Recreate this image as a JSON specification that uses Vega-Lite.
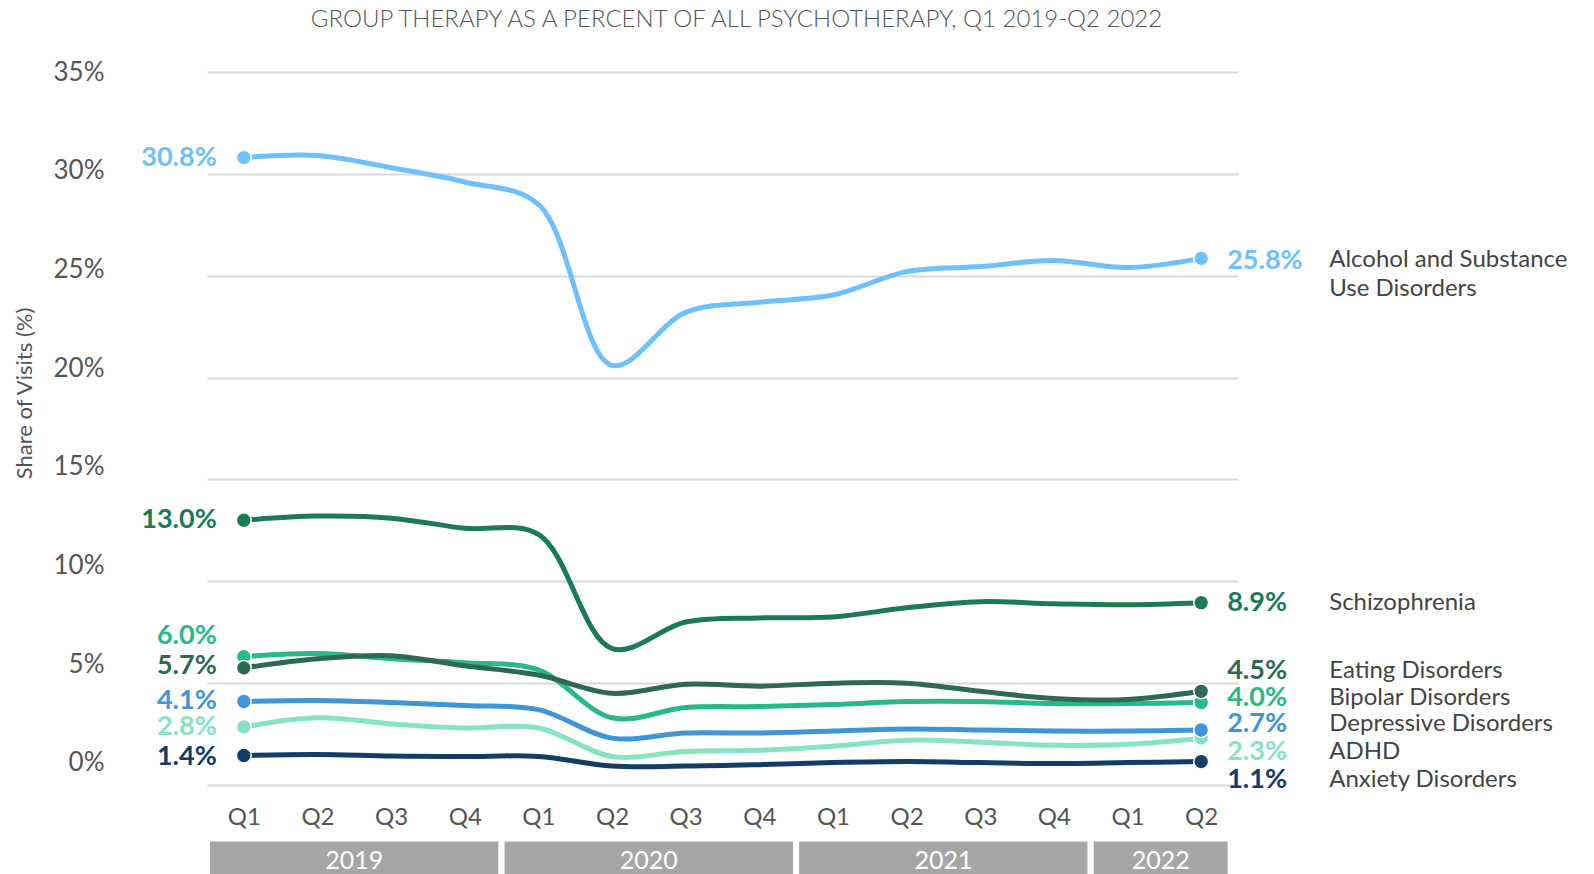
{
  "$schema": "https://vega.github.io/schema/vega-lite/v6.json",
  "width": 1031,
  "height": 713,
  "autosize": {"type": "none"},
  "padding": {"left": 207, "top": 72, "right": 356, "bottom": 89},
  "background": "white",
  "config": {"font": "Lato", "view": {"stroke": null}},
  "title": {
    "text": "GROUP THERAPY AS A PERCENT OF ALL PSYCHOTHERAPY, Q1 2019-Q2 2022",
    "fontSize": 24, "font": "Lato", "fontWeight": 300, "color": "#555555",
    "frame": "group", "anchor": "middle", "dx": 14, "offset": 27
  },
  "datasets": {
    "series": [
      {"s":"Alcohol and Substance Use Disorders","t":0,"v":30.8,"lbl":"30.8%"},
      {"s":"Alcohol and Substance Use Disorders","t":1,"v":30.9},
      {"s":"Alcohol and Substance Use Disorders","t":2,"v":30.3},
      {"s":"Alcohol and Substance Use Disorders","t":3,"v":29.6},
      {"s":"Alcohol and Substance Use Disorders","t":4,"v":28.5},
      {"s":"Alcohol and Substance Use Disorders","t":5,"v":20.6},
      {"s":"Alcohol and Substance Use Disorders","t":6,"v":23.2},
      {"s":"Alcohol and Substance Use Disorders","t":7,"v":23.7},
      {"s":"Alcohol and Substance Use Disorders","t":8,"v":24.05},
      {"s":"Alcohol and Substance Use Disorders","t":9,"v":25.2},
      {"s":"Alcohol and Substance Use Disorders","t":10,"v":25.45},
      {"s":"Alcohol and Substance Use Disorders","t":11,"v":25.75},
      {"s":"Alcohol and Substance Use Disorders","t":12,"v":25.4},
      {"s":"Alcohol and Substance Use Disorders","t":13,"v":25.85,"lbl":"25.8%","name":"Alcohol and Substance\nUse Disorders"},
      {"s":"Schizophrenia","t":0,"v":13.0,"lbl":"13.0%"},
      {"s":"Schizophrenia","t":1,"v":13.2},
      {"s":"Schizophrenia","t":2,"v":13.1},
      {"s":"Schizophrenia","t":3,"v":12.6},
      {"s":"Schizophrenia","t":4,"v":12.3},
      {"s":"Schizophrenia","t":5,"v":6.7},
      {"s":"Schizophrenia","t":6,"v":8.0},
      {"s":"Schizophrenia","t":7,"v":8.2},
      {"s":"Schizophrenia","t":8,"v":8.25},
      {"s":"Schizophrenia","t":9,"v":8.7},
      {"s":"Schizophrenia","t":10,"v":9.0},
      {"s":"Schizophrenia","t":11,"v":8.9},
      {"s":"Schizophrenia","t":12,"v":8.85},
      {"s":"Schizophrenia","t":13,"v":8.95,"lbl":"8.9%","name":"Schizophrenia"},
      {"s":"Anxiety Disorders","t":0,"v":1.45,"lbl":"1.4%"},
      {"s":"Anxiety Disorders","t":1,"v":1.5},
      {"s":"Anxiety Disorders","t":2,"v":1.42},
      {"s":"Anxiety Disorders","t":3,"v":1.4},
      {"s":"Anxiety Disorders","t":4,"v":1.4},
      {"s":"Anxiety Disorders","t":5,"v":0.93},
      {"s":"Anxiety Disorders","t":6,"v":0.93},
      {"s":"Anxiety Disorders","t":7,"v":1.0},
      {"s":"Anxiety Disorders","t":8,"v":1.1},
      {"s":"Anxiety Disorders","t":9,"v":1.15},
      {"s":"Anxiety Disorders","t":10,"v":1.1},
      {"s":"Anxiety Disorders","t":11,"v":1.05},
      {"s":"Anxiety Disorders","t":12,"v":1.1},
      {"s":"Anxiety Disorders","t":13,"v":1.15,"lbl":"1.1%","name":"Anxiety Disorders"},
      {"s":"ADHD","t":0,"v":2.85,"lbl":"2.8%"},
      {"s":"ADHD","t":1,"v":3.3},
      {"s":"ADHD","t":2,"v":3.0},
      {"s":"ADHD","t":3,"v":2.8},
      {"s":"ADHD","t":4,"v":2.8},
      {"s":"ADHD","t":5,"v":1.4},
      {"s":"ADHD","t":6,"v":1.65},
      {"s":"ADHD","t":7,"v":1.7},
      {"s":"ADHD","t":8,"v":1.9},
      {"s":"ADHD","t":9,"v":2.2},
      {"s":"ADHD","t":10,"v":2.1},
      {"s":"ADHD","t":11,"v":1.95},
      {"s":"ADHD","t":12,"v":2.0},
      {"s":"ADHD","t":13,"v":2.3,"lbl":"2.3%","name":"ADHD"},
      {"s":"Depressive Disorders","t":0,"v":4.1,"lbl":"4.1%"},
      {"s":"Depressive Disorders","t":1,"v":4.15},
      {"s":"Depressive Disorders","t":2,"v":4.05},
      {"s":"Depressive Disorders","t":3,"v":3.9},
      {"s":"Depressive Disorders","t":4,"v":3.7},
      {"s":"Depressive Disorders","t":5,"v":2.3},
      {"s":"Depressive Disorders","t":6,"v":2.55},
      {"s":"Depressive Disorders","t":7,"v":2.55},
      {"s":"Depressive Disorders","t":8,"v":2.65},
      {"s":"Depressive Disorders","t":9,"v":2.75},
      {"s":"Depressive Disorders","t":10,"v":2.7},
      {"s":"Depressive Disorders","t":11,"v":2.65},
      {"s":"Depressive Disorders","t":12,"v":2.65},
      {"s":"Depressive Disorders","t":13,"v":2.7,"lbl":"2.7%","name":"Depressive Disorders"},
      {"s":"Bipolar Disorders","t":0,"v":6.3,"lbl":"6.0%"},
      {"s":"Bipolar Disorders","t":1,"v":6.45},
      {"s":"Bipolar Disorders","t":2,"v":6.2},
      {"s":"Bipolar Disorders","t":3,"v":6.0},
      {"s":"Bipolar Disorders","t":4,"v":5.65},
      {"s":"Bipolar Disorders","t":5,"v":3.3},
      {"s":"Bipolar Disorders","t":6,"v":3.8},
      {"s":"Bipolar Disorders","t":7,"v":3.85},
      {"s":"Bipolar Disorders","t":8,"v":3.95},
      {"s":"Bipolar Disorders","t":9,"v":4.1},
      {"s":"Bipolar Disorders","t":10,"v":4.1},
      {"s":"Bipolar Disorders","t":11,"v":4.0},
      {"s":"Bipolar Disorders","t":12,"v":4.0},
      {"s":"Bipolar Disorders","t":13,"v":4.05,"lbl":"4.0%","name":"Bipolar Disorders"},
      {"s":"Eating Disorders","t":0,"v":5.75,"lbl":"5.7%"},
      {"s":"Eating Disorders","t":1,"v":6.2},
      {"s":"Eating Disorders","t":2,"v":6.35},
      {"s":"Eating Disorders","t":3,"v":5.85},
      {"s":"Eating Disorders","t":4,"v":5.4},
      {"s":"Eating Disorders","t":5,"v":4.5},
      {"s":"Eating Disorders","t":6,"v":4.95},
      {"s":"Eating Disorders","t":7,"v":4.85},
      {"s":"Eating Disorders","t":8,"v":5.0},
      {"s":"Eating Disorders","t":9,"v":5.0},
      {"s":"Eating Disorders","t":10,"v":4.6},
      {"s":"Eating Disorders","t":11,"v":4.25},
      {"s":"Eating Disorders","t":12,"v":4.2},
      {"s":"Eating Disorders","t":13,"v":4.6,"lbl":"4.5%","name":"Eating Disorders"}
    ],
    "years": [
      {"year":"2019","start":-0.5,"end":3.5},
      {"year":"2020","start":3.5,"end":7.5},
      {"year":"2021","start":7.5,"end":11.5},
      {"year":"2022","start":11.5,"end":13.4}
    ]
  },
  "layer": [
    {
      "data": {"name": "years"},
      "mark": {"type": "rect", "fill": "#A6A6A6", "stroke": "white", "strokeWidth": 6},
      "encoding": {
        "x": {"field": "start", "type": "quantitative", "title": null},
        "x2": {"field": "end"},
        "y": {"datum": -2.63, "type": "quantitative"},
        "y2": {"datum": -4.8}
      }
    },
    {
      "data": {"name": "years"},
      "transform": [{"calculate": "(datum.start + datum.end) / 2", "as": "mid"}],
      "mark": {"type": "text", "color": "white", "fontSize": 25, "baseline": "middle", "align": "center"},
      "encoding": {
        "x": {"field": "mid", "type": "quantitative", "title": null},
        "y": {"datum": -3.75, "type": "quantitative"},
        "text": {"field": "year"}
      }
    },
    {
      "data": {"name": "series"},
      "mark": {"type": "line", "interpolate": "catmull-rom", "strokeWidth": 5, "strokeCap": "round"},
      "encoding": {
        "x": {
          "field": "t", "type": "quantitative", "title": null,
          "scale": {"domain": [-0.5, 13.5], "nice": false, "zero": false},
          "axis": {
            "values": [0,1,2,3,4,5,6,7,8,9,10,11,12,13],
            "labelExpr": "'Q' + (datum.value % 4 + 1)",
            "grid": false, "domain": false, "ticks": false, "tickSize": 0,
            "labelFontSize": 24, "labelColor": "#555555", "labelPadding": 20,
            "labelFont": "Lato", "title": null
          }
        },
        "y": {
          "field": "v", "type": "quantitative",
          "scale": {"domain": [0, 35], "nice": false},
          "axis": {
            "values": [0,5,10,15,20,25,30,35],
            "labelExpr": "datum.value + '%'",
            "grid": true, "gridColor": "#D9D9D9", "gridWidth": 2,
            "domain": false, "ticks": false, "tickSize": 0,
            "labelFontSize": 26, "labelColor": "#555555", "labelPadding": 103,
            "labelFont": "Lato",
            "labelOffset": {"expr": "-(35 - datum.value) * 0.63"},
            "title": "Share of Visits (%)", "titleFontSize": 22, "titleColor": "#555555",
            "titleFontWeight": "normal", "titleFont": "Lato",
            "titleX": -183, "titleY": 321, "titleBaseline": "middle", "titleAlign": "center", "titleAngle": -90
          }
        },
        "color": {
          "field": "s", "type": "nominal", "legend": null,
          "scale": {
            "domain": ["Alcohol and Substance Use Disorders","Schizophrenia","Anxiety Disorders","ADHD","Depressive Disorders","Bipolar Disorders","Eating Disorders"],
            "range": ["#6EC1FF","#1B7B55","#143C69","#86E4C2","#3E95D8","#27BA86","#2E6A52"]
          }
        }
      }
    },
    {
      "data": {"name": "series"},
      "transform": [{"filter": "datum.t == 0 || datum.t == 13"}],
      "mark": {"type": "circle", "size": 220, "opacity": 1, "stroke": "white", "strokeWidth": 1.5},
      "encoding": {
        "x": {"field": "t", "type": "quantitative", "title": null},
        "y": {"field": "v", "type": "quantitative"},
        "color": {"field": "s", "type": "nominal", "legend": null}
      }
    },
    {
      "data": {"name": "series"},
      "transform": [{"filter": "datum.t == 0"}],
      "mark": {
        "type": "text", "align": "right", "baseline": "middle", "dx": -27,
        "fontSize": 27, "fontWeight": "bold", "font": "Lato",
        "dy": {"expr": "datum.s == 'Bipolar Disorders' ? -21 : datum.s == 'Eating Disorders' ? -2 : datum.s == 'Anxiety Disorders' ? 2 : 0"}
      },
      "encoding": {
        "x": {"field": "t", "type": "quantitative", "title": null},
        "y": {"field": "v", "type": "quantitative"},
        "text": {"field": "lbl"},
        "color": {"field": "s", "type": "nominal", "legend": null}
      }
    },
    {
      "data": {"name": "series"},
      "transform": [{"filter": "datum.t == 13"}],
      "mark": {
        "type": "text", "align": "left", "baseline": "middle", "dx": 26,
        "fontSize": 27, "fontWeight": "bold", "font": "Lato",
        "dy": {"expr": "datum.s == 'Eating Disorders' ? -20 : datum.s == 'Bipolar Disorders' ? -4 : datum.s == 'Depressive Disorders' ? -6 : datum.s == 'ADHD' ? 14 : datum.s == 'Anxiety Disorders' ? 18 : datum.s == 'Schizophrenia' ? 0 : 3"}
      },
      "encoding": {
        "x": {"field": "t", "type": "quantitative", "title": null},
        "y": {"field": "v", "type": "quantitative"},
        "text": {"field": "lbl"},
        "color": {"field": "s", "type": "nominal", "legend": null}
      }
    },
    {
      "data": {"name": "series"},
      "transform": [{"filter": "datum.t == 13"}],
      "mark": {
        "type": "text", "align": "left", "baseline": "middle", "dx": 128,
        "fontSize": 24, "font": "Lato", "color": "#444444", "lineBreak": "\n", "lineHeight": 29,
        "dy": {"expr": "datum.s == 'Eating Disorders' ? -20 : datum.s == 'Bipolar Disorders' ? -4 : datum.s == 'Depressive Disorders' ? -6 : datum.s == 'ADHD' ? 14 : datum.s == 'Anxiety Disorders' ? 18 : datum.s == 'Schizophrenia' ? 0 : 2"}
      },
      "encoding": {
        "x": {"field": "t", "type": "quantitative", "title": null},
        "y": {"field": "v", "type": "quantitative"},
        "text": {"field": "name"}
      }
    }
  ]
}
